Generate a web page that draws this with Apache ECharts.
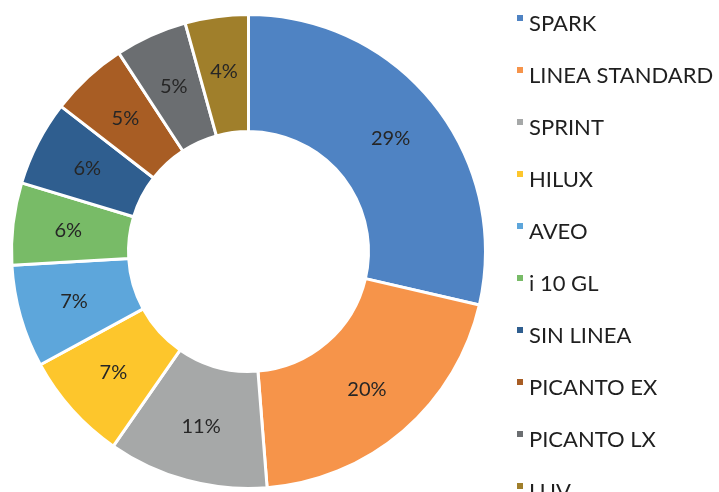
<!DOCTYPE html>
<html>
<head>
<meta charset="utf-8">
<script src="https://cdn.jsdelivr.net/npm/echarts@6/dist/echarts.min.js"></script>
<style>
html,body{margin:0;padding:0;background:#fff;}
#chart{width:719px;height:492px;}
</style>
</head>
<body>
<div id="chart"></div>
<script>
var categories = ['SPARK','LINEA STANDARD','SPRINT','HILUX','AVEO','i 10 GL','SIN LINEA','PICANTO EX','PICANTO LX','LUV'];
var values = [28.6, 20.1, 10.9, 7.4, 7.0, 5.6, 5.8, 5.3, 4.9, 4.3];
var colors = ['#4F83C3','#F6944A','#A6A8A8','#FDC62C','#5DA6DB','#78BB67','#2F5E8F','#A85D24','#6B6E71','#A07F2B'];

var chart = echarts.init(document.getElementById('chart'));
var data = categories.map(function(c,i){ return {name:c, value:values[i]}; });
chart.setOption({
  animation:false,
  color: colors,
  legend: {
    orient:'vertical',
    left: 515,
    top: 13,
    padding: 0,
    height: 700,
    itemWidth: 8,
    itemHeight: 20,
    itemGap: 30,
    icon: 'path://M0,0H8V8H0Z M0,20H0.001V20.001H0Z',
    selectedMode: false,
    textStyle: {
      fontFamily: 'Lato',
      fontSize: 22,
      color: '#1f1f1f',
      lineHeight: 20
    },
    data: categories
  },
  series: [{
    type:'pie',
    center:[248.5, 251.5],
    radius:[120, 237],
    startAngle: 90,
    clockwise: true,
    avoidLabelOverlap:false,
    itemStyle:{borderColor:'#fff', borderWidth:3},
    label:{
      show:true,
      position:'inside',
      fontFamily:'Lato',
      fontSize:20,
      color:'#262626',
      formatter:function(p){ return Math.round(p.percent)+'%'; }
    },
    labelLine:{show:false},
    emphasis:{disabled:true},
    data:data
  }]
});
</script>
</body>
</html>
